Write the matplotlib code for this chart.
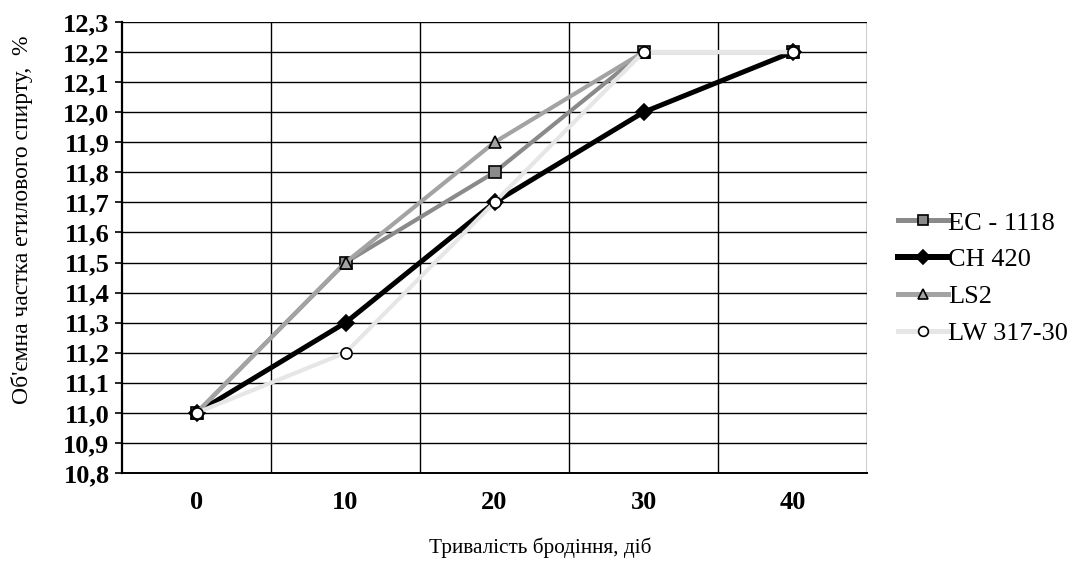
import matplotlib
matplotlib.use("Agg")
import matplotlib.pyplot as plt
from matplotlib.ticker import FuncFormatter, FixedLocator
import numpy as np

days = ["0", "10", "20", "30", "40"]
ec_1118 = [11.0, 11.5, 11.8, 12.2, 12.2]
ch_420 = [11.0, 11.3, 11.7, 12.0, 12.2]
ls2 = [11.0, 11.5, 11.9, 12.2, 12.2]
lw_317 = [11.0, 11.2, 11.7, 12.2, 12.2]
series_names = ["EC - 1118", "CH 420", "LS2", "LW 317-30"]

serif = ["Liberation Serif", "DejaVu Serif"]
plt.rcParams["font.family"] = serif

fig = plt.figure(figsize=(10.78, 5.66), dpi=100)
ax = fig.add_axes([122 / 1078, 1 - 473 / 566, (867 - 122) / 1078, (473 - 22) / 566])

x = np.arange(len(days))
styles = [
    dict(color="#8a8a8a", lw=3.0, marker="s", ms=8, mfc="#8a8a8a", mec="black", mew=1.2),
    dict(color="black", lw=3.6, marker="D", ms=8, mfc="black", mec="black", mew=1.2),
    dict(color="#a3a3a3", lw=3.0, marker="^", ms=8, mfc="#a3a3a3", mec="black", mew=1.2),
    dict(color="#e6e6e6", lw=3.0, marker="o", ms=8, mfc="white", mec="black", mew=1.2),
]
for vals, name, st in zip([ec_1118, ch_420, ls2, lw_317], series_names, styles):
    ax.plot(x, vals, label=name, solid_joinstyle="round", **st)

ax.set_xlim(-0.5, len(days) - 0.5)
ax.set_ylim(10.8, 12.3)
ax.yaxis.set_major_locator(FixedLocator(np.round(np.arange(10.8, 12.31, 0.1), 1)))
ax.yaxis.set_major_formatter(FuncFormatter(lambda v, p: f"{v:.1f}".replace(".", ",")))
ax.set_xticks(x)
ax.set_xticklabels(days)
ax.tick_params(axis="x", length=0, pad=13, labelsize=19)
ax.tick_params(axis="y", length=5, width=1.2, direction="out", pad=4, labelsize=19)
for lab in ax.get_xticklabels() + ax.get_yticklabels():
    lab.set_fontweight("bold")

ax.grid(False)
for yv in np.round(np.arange(10.9, 12.31, 0.1), 1):
    ax.axhline(yv, color="black", lw=1.0, zorder=0.5)
for xv in np.arange(0.5, len(days), 1.0):
    ax.axvline(xv, color="black", lw=1.0, zorder=0.5)

for s in ["top", "right"]:
    ax.spines[s].set_visible(False)
ax.spines["left"].set_linewidth(1.6)
ax.spines["bottom"].set_linewidth(1.4)

fig.text(22 / 1078, 1 - 220 / 566, "Об'ємна частка етилового спирту,  %", fontsize=17,
         rotation=90, ha="center", va="center")
fig.text(540 / 1078, 1 - 548 / 566, "Тривалість бродіння, діб", fontsize=15.3,
         ha="center", va="center")

leg = ax.legend(loc="center left", bbox_to_anchor=(898 / 1078, 1 - 278 / 566),
                bbox_transform=fig.transFigure, frameon=False, fontsize=19,
                handlelength=1.9, handletextpad=0.0, labelspacing=0.5,
                borderaxespad=0, borderpad=0)
for h in leg.legend_handles:
    h.set_markersize(7)
    h.set_linewidth(h.get_linewidth() * 1.2)

fig.savefig("out.png", dpi=100)
